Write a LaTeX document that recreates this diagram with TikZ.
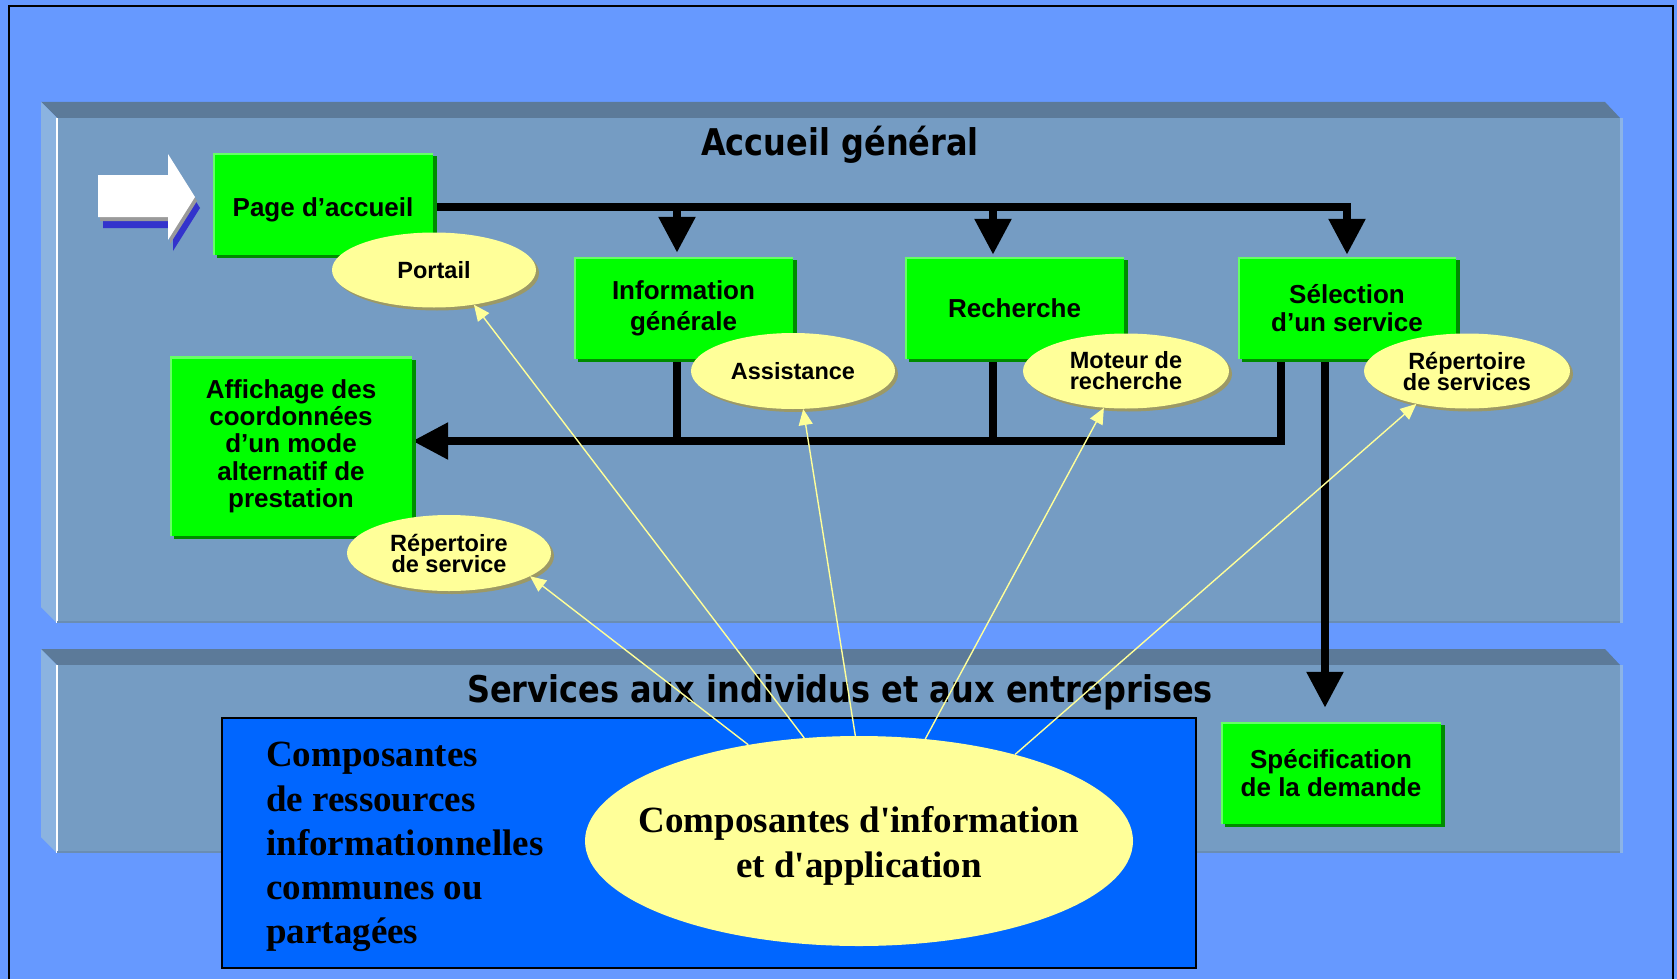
\documentclass[tikz,border=0pt]{standalone}
\usepackage{fontspec}
\setmainfont{Liberation Sans}
\newfontfamily\tnr{Liberation Serif}[Ligatures=TeXOff]
\newfontfamily\ttl{DejaVu Sans}
\usetikzlibrary{arrows.meta,shadows,shapes.geometric,calc}
\pgfdeclarelayer{back}
\pgfdeclarelayer{mid}
\pgfsetlayers{back,mid,main}
\definecolor{bg}{HTML}{6699FF}
\definecolor{pfront}{HTML}{759CC3}
\definecolor{ptop}{HTML}{5C7A99}
\definecolor{pleft}{HTML}{8BB3E0}
\definecolor{pedge}{HTML}{8CB4E6}
\definecolor{pbot}{HTML}{6A8DB3}
\definecolor{gfill}{HTML}{00FF00}
\definecolor{ghl}{HTML}{66FF66}
\definecolor{gsh}{HTML}{008C00}
\definecolor{yfill}{HTML}{FFFF99}
\definecolor{ysh}{HTML}{9C9966}
\definecolor{bbox}{HTML}{0066FF}
\definecolor{ashadow}{HTML}{3333CC}
\definecolor{agrey}{HTML}{9A9A9A}
\newcommand\nolsl{\lineskiplimit=-50pt\relax}
\begin{document}
\begin{tikzpicture}[x=1pt,y=-1pt,
  gbox/.style={rectangle, fill=gfill, inner sep=0pt, align=center,
    font={\fontsize{26}{27.3}\selectfont\bfseries\nolsl},
    drop shadow={shadow xshift=4pt,shadow yshift=-3pt,fill=gsh,opacity=1},
    path picture={\draw[ghl,line width=4pt] (path picture bounding box.south west) -- (path picture bounding box.north west) -- (path picture bounding box.north east);}},
  yell/.style={ellipse, fill=yfill, inner sep=0pt, align=center,
    font={\fontsize{23.5}{21}\selectfont\bfseries\nolsl},
    drop shadow={shadow xshift=3pt,shadow yshift=-3pt,fill=ysh,opacity=1}},
  conn/.style={draw=black, line width=8.5pt, line join=miter},
  tipb/.style={-{Triangle[length=36pt,width=35pt]}},
  yl/.style={draw=yfill, line width=1.4pt, -{Triangle[length=16pt,width=14pt]}},
  ttlfont/.style={font={\ttl\bfseries\fontsize{32}{32}\selectfont}}]
\useasboundingbox (0,0) rectangle (1677,979);
\begin{pgfonlayer}{back}
\fill[bg] (0,0) rectangle (1677,979);
\draw[black, line width=2pt] (9,979) -- (9,6) -- (1673,6) -- (1673,979);

% panel 1
\fill[ptop] (41,102) -- (1605,102) -- (1620,118) -- (57,118) -- cycle;
\fill[pleft] (41,102) -- (57,118) -- (57,623) -- (41,607) -- cycle;
\fill[pfront] (57,118) rectangle (1620,623);
\draw[white, line width=2pt] (57,118) -- (57,623);
\draw[pedge, line width=3pt] (1621,118) -- (1621,623);
\draw[pbot, line width=2pt] (57,622) -- (1620,622);
% panel 2
\fill[ptop] (41,649) -- (1605,649) -- (1620,665) -- (57,665) -- cycle;
\fill[pleft] (41,649) -- (57,665) -- (57,853) -- (41,837) -- cycle;
\fill[pfront] (57,665) rectangle (1620,853);
\draw[white, line width=2pt] (57,665) -- (57,853);
\draw[pedge, line width=3pt] (1621,665) -- (1621,853);
\draw[pbot, line width=2pt] (57,852) -- (1620,852);

% titles
\node[ttlfont, anchor=base] (t1) at (840,155) {\scalebox{1}[1.15]{Accueil général}};
\node[ttlfont, anchor=base] (t2) at (840,702) {\scalebox{1}[1.15]{Services aux individus et aux entreprises}};

% entry arrow
\fill[ashadow] (103,186) -- (173,186) -- (173,165) -- (200,208) -- (173,251) -- (173,228) -- (103,228) -- cycle;
\fill[agrey] (100,179) -- (170,179) -- (170,158) -- (197,201) -- (170,244) -- (170,221) -- (100,221) -- cycle;
\fill[white] (98,175) -- (168,175) -- (168,154) -- (195,197) -- (168,240) -- (168,217) -- (98,217) -- cycle;

% blue box
\node[draw=black, line width=1.5pt, fill=bbox, minimum width=974pt, minimum height=250pt, inner sep=0pt] (blue) at (709,843) {};
\node[anchor=north west, inner sep=0pt, align=left, font={\tnr\bfseries\fontsize{37}{44.3}\selectfont\nolsl}] (bluetxt) at (266,742)
  {Composantes\\de ressources\\informationnelles\\communes ou\\partagées};
\node[ellipse, fill=yfill, minimum width=548pt, minimum height=210pt, inner sep=0pt] (big) at (859,841) {};
\node[align=center, inner sep=0pt, font={\tnr\bfseries\fontsize{37}{45}\selectfont\nolsl}] (bigtxt) at (859,846)
  {Composantes d'information\\et d'application};
\end{pgfonlayer}

% junction coordinates
\coordinate (jtop) at (1347,207);
\coordinate (b1) at (677,207);
\coordinate (b2) at (993,207);
\coordinate (l1) at (677,441);
\coordinate (l2) at (993,441);
\coordinate (l3) at (1281,441);
\coordinate (d1) at (1325,441);

% boxes
\node[gbox, minimum width=220pt, minimum height=102pt] (page) at (323,204) {\raisebox{-6pt}[\height][\depth]{Page d’accueil}};
\node[gbox, minimum width=219pt, minimum height=102pt, font={\fontsize{26}{31}\selectfont\bfseries\nolsl}] (info) at (683.5,308) {Information\\générale};
\node[gbox, minimum width=219pt, minimum height=102pt] (rech) at (1014.5,308) {Recherche};
\node[gbox, minimum width=218pt, minimum height=102pt] (sel) at (1347,308) {Sélection\\d’un service};
\node[gbox, minimum width=242pt, minimum height=179pt] (aff) at (291,446) {Affichage des\\coordonnées\\d’un mode\\alternatif de\\prestation};
\node[gbox, minimum width=220pt, minimum height=102pt] (spec) at (1331,773) {Spécification\\de la demande};

% connectors, on a layer beneath the boxes
\begin{pgfonlayer}{mid}
\draw[conn] ([xshift=-4pt]page.east |- jtop) -- (jtop) -- ++(0,12);
\draw[conn, tipb, shorten >=2pt] (jtop) -- (sel.north -| jtop);
\draw[conn, tipb, shorten >=4pt] (b1) -- (info.north -| b1);
\draw[conn, tipb, shorten >=2pt] (b2) -- (rech.north -| b2);
\draw[conn] ([yshift=6pt]info.south -| l1) -- (l1);
\draw[conn] ([yshift=6pt]rech.south -| l2) -- (l2);
\draw[conn] ([yshift=6pt]sel.south -| l3) -- (l3) -- ++(-12,0);
\draw[conn, tipb] (l3) -- (aff.east |- l3);
\draw[conn, tipb, shorten >=14pt] ([yshift=6pt]sel.south -| d1) -- (spec.north -| d1);
\end{pgfonlayer}

% ellipses
\node[yell, minimum width=204pt, minimum height=75pt] (portail) at (434,270) {Portail};
\node[yell, minimum width=204pt, minimum height=76pt] (assist) at (793,371) {Assistance};
\node[yell, minimum width=206pt, minimum height=75pt] (moteur) at (1126,371) {Moteur de\\recherche};
\node[yell, minimum width=206pt, minimum height=75pt] (repss) at (1467,371) {Répertoire\\de services};
\node[yell, minimum width=204pt, minimum height=76pt] (rep) at (449,553) {Répertoire\\de service};

% yellow links
\draw[yl] (big.139) -- (rep.-16);
\draw[yl] (big.118) -- (portail.-41);
\draw[yl] (big.92) -- (assist.-75);
\draw[yl] (big.57) -- (moteur.-121);
\draw[yl] (big.29) -- (repss.-147);
\end{tikzpicture}
\end{document}
